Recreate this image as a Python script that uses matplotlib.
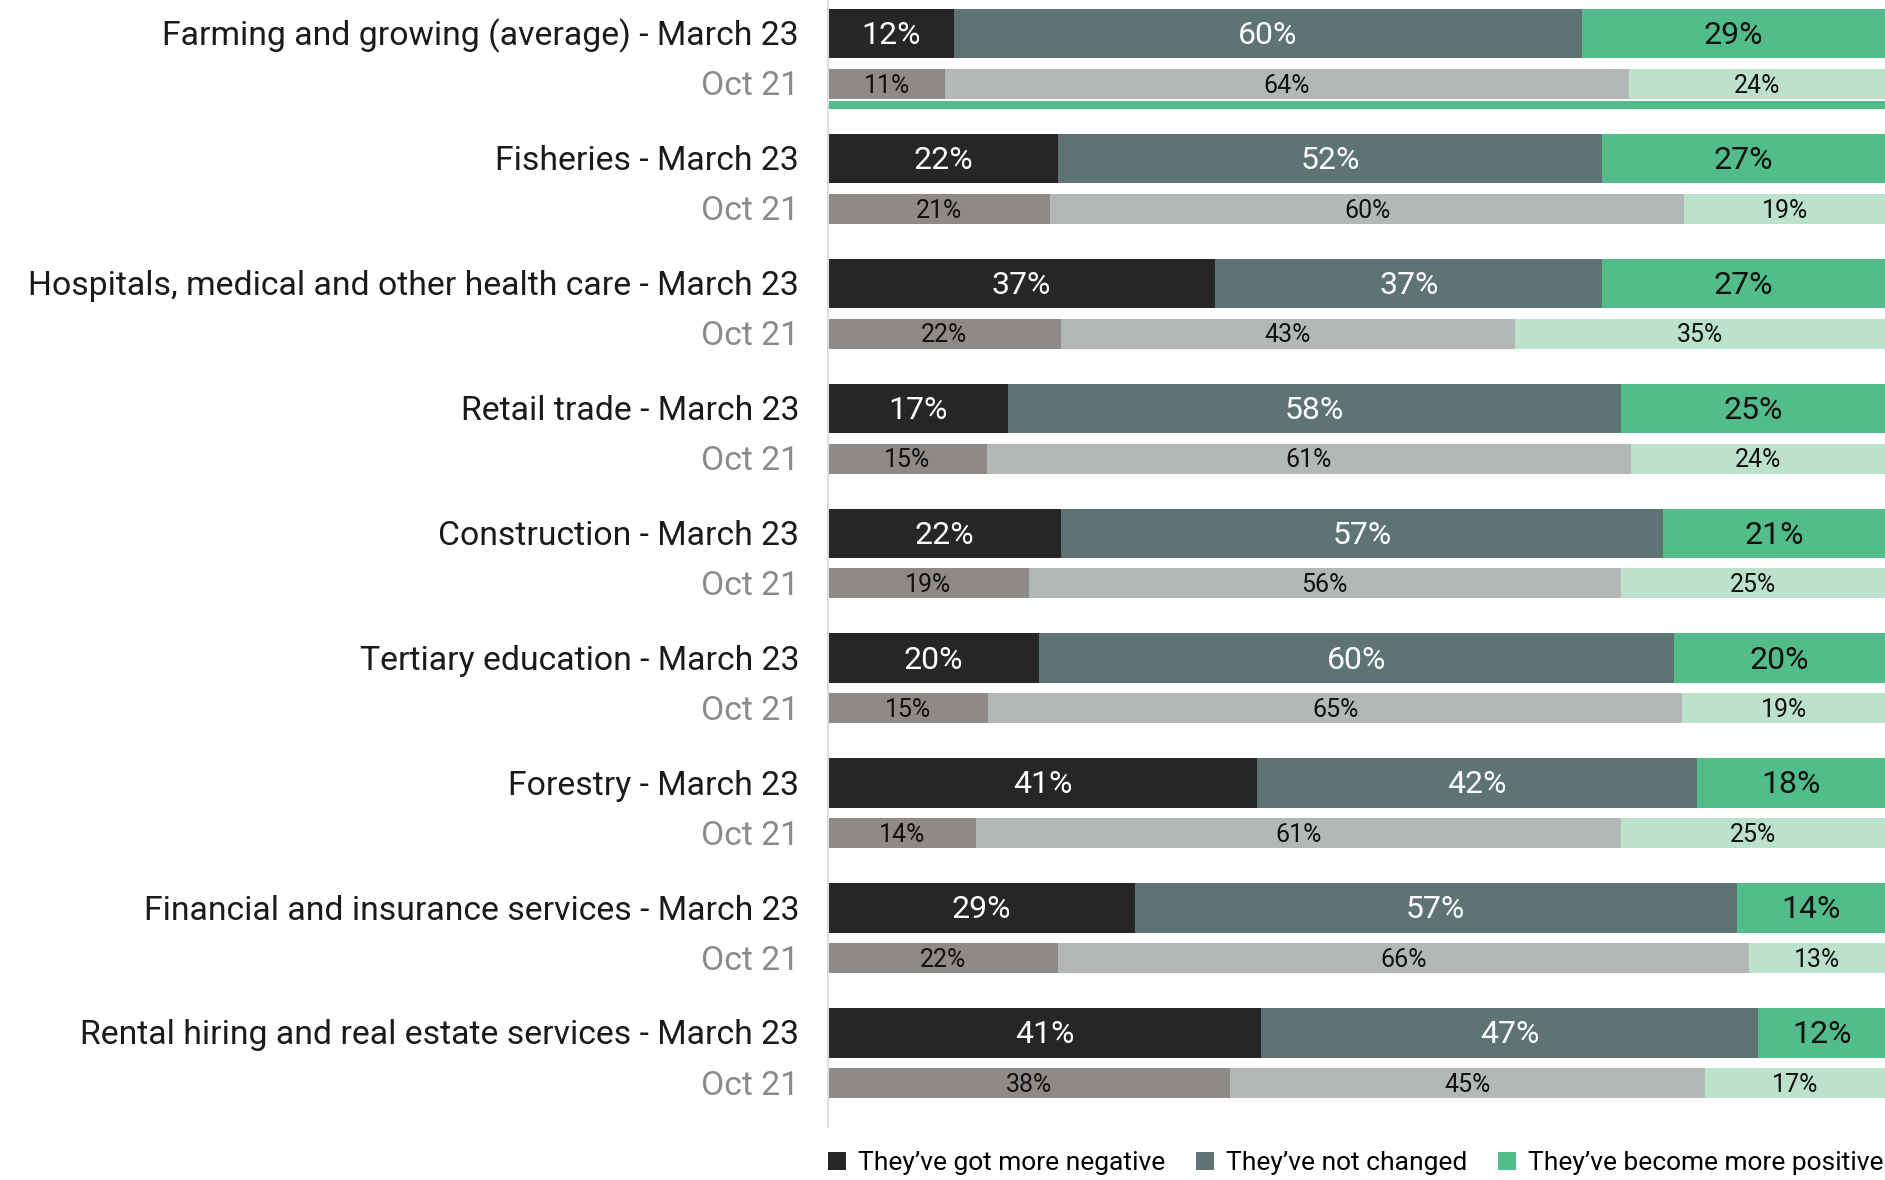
import matplotlib.pyplot as plt
import matplotlib.transforms as mtransforms
from matplotlib.patches import Patch

plt.rcParams['font.family'] = ['Roboto', 'DejaVu Sans']

industries = [
    'Farming and growing (average)',
    'Fisheries',
    'Hospitals, medical and other health care',
    'Retail trade',
    'Construction',
    'Tertiary education',
    'Forestry',
    'Financial and insurance services',
    'Rental hiring and real estate services',
]
categories = ["They\u2019ve got more negative", "They\u2019ve not changed", "They\u2019ve become more positive"]

march23 = [
    [12, 60, 29],
    [22, 52, 27],
    [37, 37, 27],
    [17, 58, 25],
    [22, 57, 21],
    [20, 60, 20],
    [41, 42, 18],
    [29, 57, 14],
    [41, 47, 12],
]
oct21 = [
    [11, 64, 24],
    [21, 60, 19],
    [22, 43, 35],
    [15, 61, 24],
    [19, 56, 25],
    [15, 65, 19],
    [14, 61, 25],
    [22, 66, 13],
    [38, 45, 17],
]

march_colors = ['#262626', '#5e7373', '#52bd8a']
oct_colors = ['#8e8a88', '#b3b8b7', '#bde2cc']
march_text = ['white', 'white', '#111111']

fig = plt.figure(figsize=(18.85, 11.8), dpi=100)
ax = fig.add_axes([828 / 1885, 1 - 1127 / 1180, 1 - 828 / 1885, 1127 / 1180])

m_h = 0.395
o_top, o_h = 0.48, 0.24

for i, name in enumerate(industries):
    for row, top, h, cols, tcols, fs in [
        (march23[i], 0, m_h, march_colors, march_text, 23),
        (oct21[i], o_top, o_h, oct_colors, ['#111111'] * 3, 18),
    ]:
        total = sum(row)
        left = 0
        for v, c, tc in zip(row, cols, tcols):
            w = v / total * 100
            ax.barh(i + top + h / 2, w, height=h, left=left, color=c, linewidth=0)
            ax.text(left + w / 2, i + top + h / 2 + 0.015, f'{v}%', ha='center', va='center',
                    color=tc, fontsize=fs)
            left += w

# green separator under the average row
ax.barh(0.77, 100, height=0.06, left=0, color='#52bd8a', linewidth=0)

ax.set_xlim(0, 100)
ax.set_ylim(8.95, -0.07)
for s in ['top', 'right', 'bottom']:
    ax.spines[s].set_visible(False)
ax.spines['left'].set_color('#dddddd')
ax.spines['left'].set_linewidth(1.5)
ax.set_xticks([])
ax.set_yticks([])

trans = mtransforms.blended_transform_factory(fig.transFigure, ax.transData)
lx = 799 / 1885
for i, name in enumerate(industries):
    fig.text(lx, i + m_h / 2 + 0.02, f'{name} - March 23', ha='right', va='center',
             fontsize=24.3, color='#1a1a1a', transform=trans)
    fig.text(lx, i + o_top + o_h / 2 + 0.02, 'Oct 21', ha='right', va='center',
             fontsize=24.3, color='#8a8a8a', transform=trans)

handles = [Patch(facecolor=c, edgecolor='none') for c in march_colors]
fig.legend(handles, categories, loc='center left', bbox_to_anchor=(828 / 1885, 1 - 1163 / 1180),
           ncol=3, frameon=False, fontsize=19, handlelength=0.7, handleheight=0.7,
           handletextpad=0.45, columnspacing=1.15, borderaxespad=0, borderpad=0)

fig.savefig('out.png', dpi=100)
